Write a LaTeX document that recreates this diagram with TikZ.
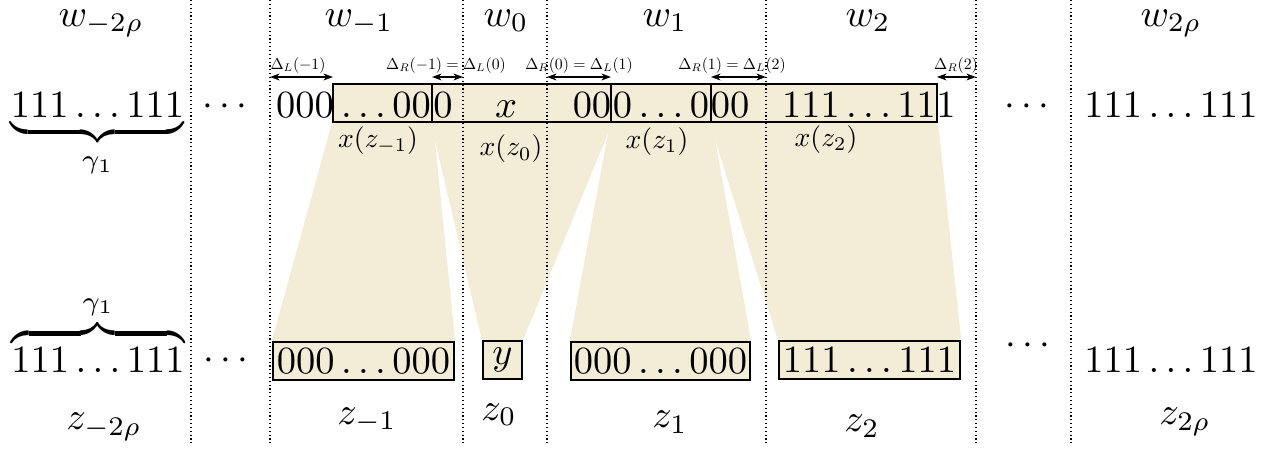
\documentclass[tikz,border=0pt]{standalone}
\usetikzlibrary{arrows.meta,backgrounds}
\definecolor{beige}{RGB}{243,236,214}
\newcommand\smalllab[1]{\scalebox{0.41}{$#1$}}
\newcommand\midlab[1]{\scalebox{0.72}{$#1$}}
\begin{document}
\begin{tikzpicture}[x=0.26pt,y=-0.26pt,
  box/.style={draw, line width=0.6pt, fill=beige, inner sep=0pt, minimum height=9.88pt},
  sep/.style={line width=0.3pt, dash pattern=on 0.3pt off 0.7pt},
  dl/.style={anchor=base, inner sep=0pt},
  xl/.style={anchor=base, inner sep=0pt},
  txt/.style={anchor=base, inner sep=0pt},
  dim/.style={<->, line width=0.3pt, >={Stealth[length=2.5pt,width=1.8pt,inset=0.8pt]}}
]
\useasboundingbox (0,0) rectangle (1273,450);

% boxes top row
\node[box, minimum width=25.74pt] (b1) at (382.5,103) {};
\node[box, minimum width=46.54pt] (b2) at (521.5,103) {};
\node[box, minimum width=26pt]    (b3) at (661,103) {};
\node[box, minimum width=58.76pt] (b4) at (824,103) {};
% boxes bottom row
\node[box, minimum width=47.06pt] (c1) at (363.5,361) {};
\node[box, minimum width=10.14pt] (c0) at (502.5,360) {};
\node[box, minimum width=46.54pt] (c2) at (660.5,361) {};
\node[box, minimum width=47.06pt] (c3) at (869.5,360) {};

% shaded trapezoids
\begin{scope}[on background layer]
\fill[beige] (b1.south west) -- (b1.south east) -- (c1.north east) -- (c1.north west) -- cycle;
\fill[beige] (b2.south west) -- (b2.south east) -- (c0.north east) -- (c0.north west) -- cycle;
\fill[beige] (b3.south west) -- (b3.south east) -- (c2.north east) -- (c2.north west) -- cycle;
\fill[beige] (b4.south west) -- (b4.south east) -- (c3.north east) -- (c3.north west) -- cycle;
\end{scope}

% dotted separators
\foreach \xx in {191,270,463,547,766,976,1071}
  \draw[sep] (\xx,0) -- (\xx,445);

% top labels
\node[txt] (w1) at (101,26) {$w_{-2\rho}$};
\node[txt] (w2) at (359,26) {$w_{-1}$};
\node[txt] (w3) at (506,26) {$w_{0}$};
\node[txt] (w4) at (665,26) {$w_{1}$};
\node[txt] (w5) at (868,26) {$w_{2}$};
\node[txt] (w6) at (1171,26) {$w_{2\rho}$};

% top string
\node[txt] (t1) at (97.5,118) {$\underbrace{111\ldots111}_{\gamma_1}$};
\node[txt] (td1) at (225,116) {$\cdots$};
\node[txt] (t000) at (305,118) {$000$};
\node[txt] (tb1) at (386,118) {$\ldots00$};
\node[txt] (tb2a) at (443,118) {$0$};
\node[txt] (tb2x) at (506,118) {$x$};
\node[txt] (tb2b) at (592,118) {$00$};
\node[txt] (tb3) at (661,118) {$0\ldots0$};
\node[txt] (tb4a) at (730,118) {$00$};
\node[txt] (tb4b) at (859,118) {$111\ldots11$};
\node[txt] (tend) at (946,118) {$1$};
\node[txt] (td2) at (1027,116) {$\cdots$};
\node[txt] (t2) at (1171,118) {$111\ldots111$};

% x(z) labels
\node[xl] (lx1) at (378,147) {\midlab{x(z_{-1})}};
\node[xl] (lx0) at (511,156) {\midlab{x(z_0)}};
\node[xl] (lx2) at (657,148) {\midlab{x(z_1)}};
\node[xl] (lx3) at (826,146) {\midlab{x(z_2)}};

% Delta labels
\node[dl] (dL1) at (298,69) {\smalllab{\Delta_L(-1)}};
\node[dl] (dR1) at (446,69) {\smalllab{\Delta_R(-1)=\Delta_L(0)}};
\node[dl] (dR0) at (579,69) {\smalllab{\Delta_R(0)=\Delta_L(1)}};
\node[dl] (dR2) at (732,69) {\smalllab{\Delta_R(1)=\Delta_L(2)}};
\node[dl] (dR3) at (956,69) {\smalllab{\Delta_R(2)}};

% Delta arrows
\coordinate (a1) at (270,77);  \coordinate (a2) at (333,77);
\coordinate (a3) at (432,77);  \coordinate (a4) at (463,77);
\coordinate (a5) at (547,77);  \coordinate (a6) at (611,77);
\coordinate (a7) at (711,77);  \coordinate (a8) at (766,77);
\coordinate (a9) at (937,77);  \coordinate (a10) at (976,77);
\draw[dim] (a1) -- (a2);
\draw[dim] (a3) -- (a4);
\draw[dim] (a5) -- (a6);
\draw[dim] (a7) -- (a8);
\draw[dim] (a9) -- (a10);

% bottom string
\node[txt] (u1) at (98,372) {$\overbrace{111\ldots111}^{\gamma_1}$};
\node[txt] (ud1) at (226,369) {$\cdots$};
\node[txt] (uc1) at (363.5,373) {$000\ldots000$};
\node[txt] (uc0) at (502.5,364) {$y$};
\node[txt] (uc2) at (660.5,373) {$000\ldots000$};
\node[txt] (uc3) at (869.5,372) {$111\ldots111$};
\node[txt] (ud2) at (1028,355) {$\cdots$};
\node[txt] (u2) at (1171,372) {$111\ldots111$};

% bottom labels
\node[txt] (z1) at (104,430) {$z_{-2\rho}$};
\node[txt] (z2) at (367,424) {$z_{-1}$};
\node[txt] (z3) at (499,420) {$z_{0}$};
\node[txt] (z4) at (670,428) {$z_{1}$};
\node[txt] (z5) at (862,432) {$z_{2}$};
\node[txt] (z6) at (1185,425) {$z_{2\rho}$};
\end{tikzpicture}
\end{document}
